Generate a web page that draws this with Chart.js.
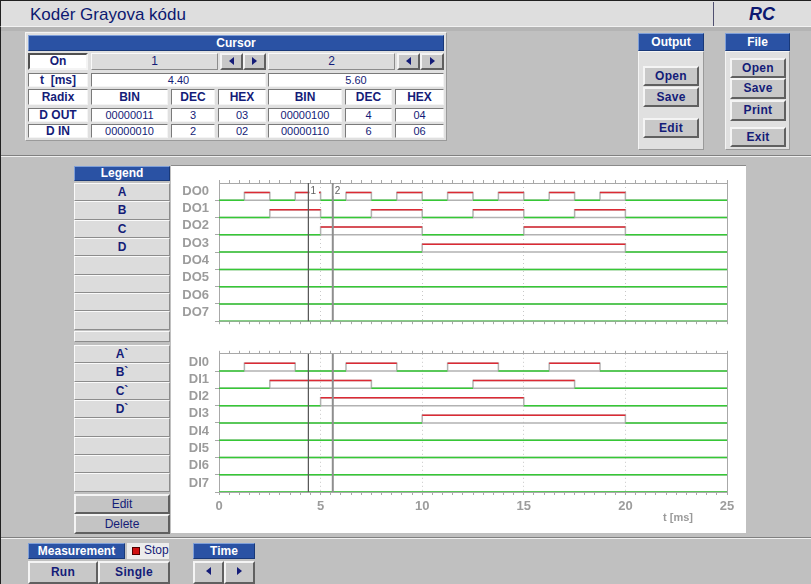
<!DOCTYPE html>
<html>
<head>
<meta charset="utf-8">
<script src="https://cdn.jsdelivr.net/npm/chart.js@4.4.1/dist/chart.umd.min.js"></script>
<style>
  html,body{margin:0;padding:0;}
  body{width:811px;height:584px;background:#c0c0c0;position:relative;overflow:hidden;font-family:"Liberation Sans",Arial,sans-serif;}
  .abs{position:absolute;box-sizing:border-box;}
  .hdr{position:absolute;box-sizing:border-box;background:#2a52a4;color:#fff;font-weight:bold;font-size:12px;text-align:center;border:1px solid;border-color:#7f9fd8 #183878 #183878 #7f9fd8;}
  .cw{position:absolute;box-sizing:border-box;background:#fff;color:#141c78;font-size:11px;text-align:center;border:1px solid;border-color:#7a7a7a #f4f4f4 #f4f4f4 #7a7a7a;}
  .cb{font-weight:bold;font-size:12px;}
  .btn{position:absolute;box-sizing:border-box;background:#c8c8c8;color:#141c78;font-weight:bold;font-size:12px;text-align:center;border:2px solid;border-color:#f4f4f4 #606060 #606060 #f4f4f4;letter-spacing:0.3px;}
  .lg{position:absolute;box-sizing:border-box;background:#dcdcdc;color:#141c78;font-weight:bold;font-size:12px;text-align:center;border:1px solid;border-color:#fafafa #8c8c8c #8c8c8c #fafafa;}
  .panel{position:absolute;box-sizing:border-box;background:#e0e0e0;border:1px solid;border-color:#f4f4f4 #9a9a9a #9a9a9a #f4f4f4;}
  .tri-l{display:inline-block;width:0;height:0;border-top:4px solid transparent;border-bottom:4px solid transparent;border-right:5px solid #141c78;}
  .tri-r{display:inline-block;width:0;height:0;border-top:4px solid transparent;border-bottom:4px solid transparent;border-left:5px solid #141c78;}
</style>
</head>
<body>
<!-- window frame and header -->
<div class="abs" style="left:0;top:0;width:811px;height:27px;background:#dedede;border-top:1px solid #202020;border-left:1px solid #202020;border-bottom:1px solid #f2f2f2;"></div>
<div class="abs" style="left:0;top:27px;width:811px;height:4px;background:#b4b4b4;border-left:1px solid #202020;"></div>
<div class="abs" style="left:0;top:31px;width:1px;height:553px;background:#202020;"></div>
<div class="abs" style="left:30px;top:5px;font-size:17px;color:#0c1870;font-family:'Liberation Sans Narrow','Arial Narrow','Liberation Sans',sans-serif;">Kodér Grayova kódu</div>
<div class="abs" style="left:713px;top:2px;width:1px;height:24px;background:#505070;"></div>
<div class="abs" style="left:749px;top:4px;font-size:18px;font-weight:bold;font-style:italic;color:#0c1870;">RC</div>

<!-- separators -->
<div class="abs" style="left:1px;top:155px;width:810px;height:1px;background:#808080;"></div>
<div class="abs" style="left:1px;top:156px;width:810px;height:1px;background:#f0f0f0;"></div>
<div class="abs" style="left:1px;top:537px;width:810px;height:1px;background:#808080;"></div>
<div class="abs" style="left:1px;top:538px;width:810px;height:1px;background:#f0f0f0;"></div>

<!-- cursor panel -->
<div class="panel" style="left:25px;top:32px;width:422px;height:109px;"></div>
<div class="hdr" style="left:28px;top:35px;width:416px;height:16px;line-height:14px;">Cursor</div>

<div class="cw cb" style="left:28px;top:53px;width:60px;height:17px;line-height:13px;border-width:2px;border-color:#505050 #f4f4f4 #f4f4f4 #505050;">On</div>
<div class="lg" style="left:91px;top:53px;width:127px;height:17px;line-height:15px;font-weight:normal;font-size:12px;">1</div>
<div class="btn" style="left:220px;top:53px;width:23px;height:17px;line-height:12px;"><span class="tri-l"></span></div>
<div class="btn" style="left:243px;top:53px;width:23px;height:17px;line-height:12px;"><span class="tri-r"></span></div>
<div class="lg" style="left:268px;top:53px;width:127px;height:17px;line-height:15px;font-weight:normal;font-size:12px;">2</div>
<div class="btn" style="left:397px;top:53px;width:23px;height:17px;line-height:12px;"><span class="tri-l"></span></div>
<div class="btn" style="left:420px;top:53px;width:24px;height:17px;line-height:12px;"><span class="tri-r"></span></div>

<div class="cw cb" style="left:28px;top:73px;width:60px;height:14px;line-height:12px;">t&nbsp;&nbsp;[ms]</div>
<div class="cw" id="t1" style="left:91px;top:73px;width:175px;height:14px;line-height:12px;"></div>
<div class="cw" id="t2" style="left:268px;top:73px;width:176px;height:14px;line-height:12px;"></div>

<div class="cw cb" style="left:28px;top:89px;width:60px;height:16px;line-height:14px;">Radix</div>
<div class="cw cb" style="left:91px;top:89px;width:77px;height:16px;line-height:14px;">BIN</div>
<div class="cw cb" style="left:171px;top:89px;width:44px;height:16px;line-height:14px;">DEC</div>
<div class="cw cb" style="left:218px;top:89px;width:48px;height:16px;line-height:14px;">HEX</div>
<div class="cw cb" style="left:268px;top:89px;width:74px;height:16px;line-height:14px;">BIN</div>
<div class="cw cb" style="left:345px;top:89px;width:47px;height:16px;line-height:14px;">DEC</div>
<div class="cw cb" style="left:395px;top:89px;width:49px;height:16px;line-height:14px;">HEX</div>

<div class="cw cb" style="left:28px;top:108px;width:60px;height:14px;line-height:12px;">D OUT</div>
<div class="cw" id="ob1" style="left:91px;top:108px;width:77px;height:14px;line-height:12px;"></div>
<div class="cw" id="od1" style="left:171px;top:108px;width:44px;height:14px;line-height:12px;"></div>
<div class="cw" id="oh1" style="left:218px;top:108px;width:48px;height:14px;line-height:12px;"></div>
<div class="cw" id="ob2" style="left:268px;top:108px;width:74px;height:14px;line-height:12px;"></div>
<div class="cw" id="od2" style="left:345px;top:108px;width:47px;height:14px;line-height:12px;"></div>
<div class="cw" id="oh2" style="left:395px;top:108px;width:49px;height:14px;line-height:12px;"></div>

<div class="cw cb" style="left:28px;top:124px;width:60px;height:14px;line-height:12px;">D IN</div>
<div class="cw" id="ib1" style="left:91px;top:124px;width:77px;height:14px;line-height:12px;"></div>
<div class="cw" id="id1" style="left:171px;top:124px;width:44px;height:14px;line-height:12px;"></div>
<div class="cw" id="ih1" style="left:218px;top:124px;width:48px;height:14px;line-height:12px;"></div>
<div class="cw" id="ib2" style="left:268px;top:124px;width:74px;height:14px;line-height:12px;"></div>
<div class="cw" id="id2" style="left:345px;top:124px;width:47px;height:14px;line-height:12px;"></div>
<div class="cw" id="ih2" style="left:395px;top:124px;width:49px;height:14px;line-height:12px;"></div>

<!-- output panel -->
<div class="hdr" style="left:638px;top:33px;width:66px;height:18px;line-height:16px;">Output</div>
<div class="panel" style="left:638px;top:51px;width:66px;height:99px;"></div>
<div class="btn" style="left:643px;top:66px;width:56px;height:20px;line-height:16px;">Open</div>
<div class="btn" style="left:643px;top:87px;width:56px;height:20px;line-height:16px;">Save</div>
<div class="btn" style="left:643px;top:118px;width:56px;height:20px;line-height:16px;">Edit</div>

<!-- file panel -->
<div class="hdr" style="left:725px;top:33px;width:65px;height:18px;line-height:16px;">File</div>
<div class="panel" style="left:725px;top:51px;width:65px;height:99px;"></div>
<div class="btn" style="left:730px;top:58px;width:56px;height:20px;line-height:16px;">Open</div>
<div class="btn" style="left:730px;top:78px;width:56px;height:21px;line-height:17px;">Save</div>
<div class="btn" style="left:730px;top:100px;width:56px;height:21px;line-height:17px;">Print</div>
<div class="btn" style="left:730px;top:127px;width:56px;height:20px;line-height:16px;">Exit</div>

<!-- plot panel -->
<div class="abs" style="left:171px;top:165px;width:575px;height:368px;background:#fff;border-top:1px solid #8a8a8a;"></div>
<canvas id="cOut" class="abs" style="left:171px;top:166px;" width="575" height="169"></canvas>
<canvas id="cIn" class="abs" style="left:171px;top:340px;" width="575" height="193"></canvas>
<div class="abs" style="left:663px;top:511px;font-size:11px;font-weight:bold;color:#9a9a9a;">t [ms]</div>

<!-- legend -->
<div class="hdr" style="left:74px;top:166px;width:96px;height:15px;line-height:13px;">Legend</div>
<div id="legendOut"></div>
<div class="lg" style="left:74px;top:331px;width:96px;height:11px;"></div>
<div id="legendIn"></div>
<div class="btn" style="left:74px;top:494px;width:96px;height:20px;line-height:16px;font-weight:normal;background:#c4c4c4;letter-spacing:0;">Edit</div>
<div class="btn" style="left:74px;top:514px;width:96px;height:20px;line-height:16px;font-weight:normal;background:#c4c4c4;letter-spacing:0;">Delete</div>

<!-- bottom controls -->
<div class="hdr" style="left:28px;top:543px;width:97px;height:16px;line-height:14px;">Measurement</div>
<div class="abs" style="left:127px;top:543px;width:42px;height:16px;background:#ececec;font-size:12px;color:#141c78;line-height:15px;padding-left:17px;">Stop</div>
<div class="abs" style="left:132px;top:547px;width:8px;height:8px;background:#d01010;border:1px solid #500000;"></div>
<div class="btn" style="left:28px;top:561px;width:70px;height:23px;line-height:19px;">Run</div>
<div class="btn" style="left:98px;top:561px;width:72px;height:23px;line-height:19px;">Single</div>
<div class="hdr" style="left:193px;top:543px;width:62px;height:16px;line-height:14px;">Time</div>
<div class="btn" style="left:193px;top:561px;width:31px;height:23px;line-height:17px;"><span class="tri-l"></span></div>
<div class="btn" style="left:224px;top:561px;width:31px;height:23px;line-height:17px;"><span class="tri-r"></span></div>

<script>
// ---- data ----
const stepTimes = [0, 1.25, 2.5, 3.75, 5, 6.25, 7.5, 8.75, 10, 11.25, 12.5, 13.75, 15, 16.25, 17.5, 18.75, 20, 25];
const outRowLabels = ['DO0', 'DO1', 'DO2', 'DO3', 'DO4', 'DO5', 'DO6', 'DO7'];
const inRowLabels = ['DI0', 'DI1', 'DI2', 'DI3', 'DI4', 'DI5', 'DI6', 'DI7'];
const DO0 = [0,1,0,1,0,1,0,1,0,1,0,1,0,1,0,1,0,0];
const DO1 = [0,0,1,1,0,0,1,1,0,0,1,1,0,0,1,1,0,0];
const DO2 = [0,0,0,0,1,1,1,1,0,0,0,0,1,1,1,1,0,0];
const DO3 = [0,0,0,0,0,0,0,0,1,1,1,1,1,1,1,1,0,0];
const DO4 = [0,0,0,0,0,0,0,0,0,0,0,0,0,0,0,0,0,0];
const DO5 = [0,0,0,0,0,0,0,0,0,0,0,0,0,0,0,0,0,0];
const DO6 = [0,0,0,0,0,0,0,0,0,0,0,0,0,0,0,0,0,0];
const DO7 = [0,0,0,0,0,0,0,0,0,0,0,0,0,0,0,0,0,0];
const DI0 = [0,1,1,0,0,1,1,0,0,1,1,0,0,1,1,0,0,0];
const DI1 = [0,0,1,1,1,1,0,0,0,0,1,1,1,1,0,0,0,0];
const DI2 = [0,0,0,0,1,1,1,1,1,1,1,1,0,0,0,0,0,0];
const DI3 = [0,0,0,0,0,0,0,0,1,1,1,1,1,1,1,1,0,0];
const DI4 = [0,0,0,0,0,0,0,0,0,0,0,0,0,0,0,0,0,0];
const DI5 = [0,0,0,0,0,0,0,0,0,0,0,0,0,0,0,0,0,0];
const DI6 = [0,0,0,0,0,0,0,0,0,0,0,0,0,0,0,0,0,0];
const DI7 = [0,0,0,0,0,0,0,0,0,0,0,0,0,0,0,0,0,0];
const cursorTimes = [4.40, 5.60];
const cursorNames = ['1', '2'];
const doutBin = ['00000011', '00000100'];
const doutDec = ['3', '4'];
const doutHex = ['03', '04'];
const dinBin = ['00000010', '00000110'];
const dinDec = ['2', '6'];
const dinHex = ['02', '06'];
const legendOut = ['A', 'B', 'C', 'D', '', '', '', ''];
const legendIn = ['A`', 'B`', 'C`', 'D`', '', '', '', ''];
const xMin = 0, xMax = 25, xMinorStep = 0.5, xMajorStep = 5;
const yRowTicks = [0, 1, 2, 3, 4, 5, 6, 7, 8];

// ---- cursor table ----
document.getElementById('t1').textContent = cursorTimes[0].toFixed(2);
document.getElementById('t2').textContent = cursorTimes[1].toFixed(2);
['1','2'].forEach((k, i) => {
  document.getElementById('ob' + k).textContent = doutBin[i];
  document.getElementById('od' + k).textContent = doutDec[i];
  document.getElementById('oh' + k).textContent = doutHex[i];
  document.getElementById('ib' + k).textContent = dinBin[i];
  document.getElementById('id' + k).textContent = dinDec[i];
  document.getElementById('ih' + k).textContent = dinHex[i];
});

// ---- legend ----
function buildLegend(id, names, top) {
  const el = document.getElementById(id);
  const step = 18.33;
  names.forEach((n, i) => {
    const d = document.createElement('div');
    d.className = 'lg';
    const y0 = Math.round(top + i * step), y1 = Math.round(top + (i + 1) * step);
    d.style.cssText = `left:74px;top:${y0}px;width:96px;height:${y1 - y0}px;line-height:${y1 - y0 - 2}px;`;
    d.textContent = n;
    el.appendChild(d);
  });
}
buildLegend('legendOut', legendOut, 183);
buildLegend('legendIn', legendIn, 345);

// ---- charts ----
const GREEN = '#36c836', RED = '#dc2a34', EDGE = '#b2b2b2', AXIS = '#a8a8a8', LABEL = '#9c9c9c';

function rowDatasets(vals, r) {
  const base = r + 1, high = r + 0.55;
  return [
    // waveform outline: value at step i holds until step i+1 (step-before: horizontal then vertical)
    { data: stepTimes.map((t, i) => ({ x: t, y: vals[i] ? high : base })), stepped: 'before',
      borderColor: EDGE, borderWidth: 1.5, order: 30 },
    { data: stepTimes.map(t => ({ x: t, y: base })), borderColor: GREEN, borderWidth: 1.5, order: 20,
      segment: { borderColor: c => vals[c.p0DataIndex] ? EDGE : GREEN } },
    { data: stepTimes.map(t => ({ x: t, y: high })), borderColor: 'rgba(0,0,0,0)', borderWidth: 1.5, order: 10,
      segment: { borderColor: c => vals[c.p0DataIndex] ? RED : 'rgba(0,0,0,0)' } }
  ];
}

const cursorLabelPlugin = {
  id: 'cursorLabels',
  afterDatasetsDraw(chart, args, opts) {
    if (!opts.show) return;
    const { ctx, chartArea, scales } = chart;
    ctx.save();
    ctx.font = '10px "Liberation Sans", Arial, sans-serif';
    ctx.textBaseline = 'top';
    cursorTimes.forEach((t, i) => {
      const x = scales.x.getPixelForValue(t);
      const w = ctx.measureText(cursorNames[i]).width;
      ctx.fillStyle = '#fff';
      ctx.fillRect(x + 1, chartArea.top + 2, w + 4, 11);
      ctx.fillStyle = '#606060';
      ctx.fillText(cursorNames[i], x + 2, chartArea.top + 3);
    });
    ctx.restore();
  }
};

function makeChart(canvasId, rows, labels, cfg) {
  const datasets = [];
  rows.forEach((vals, r) => datasets.push(...rowDatasets(vals, r)));
  datasets.push({ data: [{ x: cursorTimes[0], y: 0 }, { x: cursorTimes[0], y: 8 }], borderColor: '#5a5a5a', borderWidth: 1, order: 1 });
  datasets.push({ data: [{ x: cursorTimes[1], y: 0 }, { x: cursorTimes[1], y: 8 }], borderColor: '#8e8e8e', borderWidth: 2, order: 2 });

  const xCommon = {
    type: 'linear', min: xMin, max: xMax,
    afterBuildTicks: s => { const t = []; for (let v = xMin; v <= xMax + 1e-9; v += xMinorStep) t.push({ value: +v.toFixed(2) }); s.ticks = t; }
  };
  new Chart(document.getElementById(canvasId), {
    type: 'line',
    data: { datasets },
    plugins: [cursorLabelPlugin],
    options: {
      animation: false, responsive: false, devicePixelRatio: 1,
      layout: { padding: { left: 0, right: 19, top: 0, bottom: 0 } },
      elements: { point: { radius: 0, hoverRadius: 0 }, line: { tension: 0 } },
      plugins: { legend: { display: false }, tooltip: { enabled: false }, cursorLabels: { show: cfg.cursorLabels } },
      scales: {
        x: Object.assign({}, xCommon, {
          position: 'bottom',
          afterFit: s => { s.height = cfg.bottomH; },
          ticks: { display: cfg.showXLabels, autoSkip: false, maxRotation: 0, padding: 4, color: LABEL,
            font: { family: '"Liberation Sans", Arial, sans-serif', size: 13, weight: 'bold' },
            callback: v => (Math.abs(v % xMajorStep) < 1e-9 ? String(v) : '') },
          grid: { drawOnChartArea: true, tickLength: 3, tickColor: AXIS,
            color: c => (c.tick && c.tick.value > xMin && c.tick.value < xMax && Math.abs(c.tick.value % xMajorStep) < 1e-9) ? '#c8c8c8' : 'rgba(0,0,0,0)' },
          border: { display: true, color: AXIS, dash: [1, 3] }
        }),
        xTop: Object.assign({}, xCommon, {
          position: 'top',
          afterFit: s => { s.height = cfg.topH; },
          ticks: { display: false },
          grid: { drawOnChartArea: false, tickLength: 3, tickColor: AXIS, color: AXIS },
          border: { display: true, color: AXIS }
        }),
        y: {
          type: 'linear', reverse: true, min: 0, max: 8, position: 'left',
          afterBuildTicks: s => { s.ticks = yRowTicks.map(v => ({ value: v })); },
          afterFit: s => { s.width = 48; },
          ticks: { autoSkip: false, labelOffset: -9, padding: 6, color: LABEL,
            font: { family: '"Liberation Sans", Arial, sans-serif', size: 13, weight: 'bold' },
            callback: v => (v === 0 ? '' : labels[v - 1]) },
          grid: { drawOnChartArea: false, tickLength: 4, tickColor: c => (c.tick && c.tick.value === 0 ? 'rgba(0,0,0,0)' : AXIS) },
          border: { display: true, color: AXIS }
        },
        yRight: {
          type: 'linear', min: 0, max: 8, position: 'right',
          afterFit: s => { s.width = 0; },
          ticks: { display: false }, grid: { display: false },
          border: { display: true, color: AXIS }
        }
      }
    }
  });
}

makeChart('cOut', [DO0, DO1, DO2, DO3, DO4, DO5, DO6, DO7], outRowLabels,
  { topH: 17, bottomH: 6, showXLabels: false, cursorLabels: true });
makeChart('cIn', [DI0, DI1, DI2, DI3, DI4, DI5, DI6, DI7], inRowLabels,
  { topH: 5, bottomH: 41, showXLabels: true, cursorLabels: false });
</script>
</body>
</html>
